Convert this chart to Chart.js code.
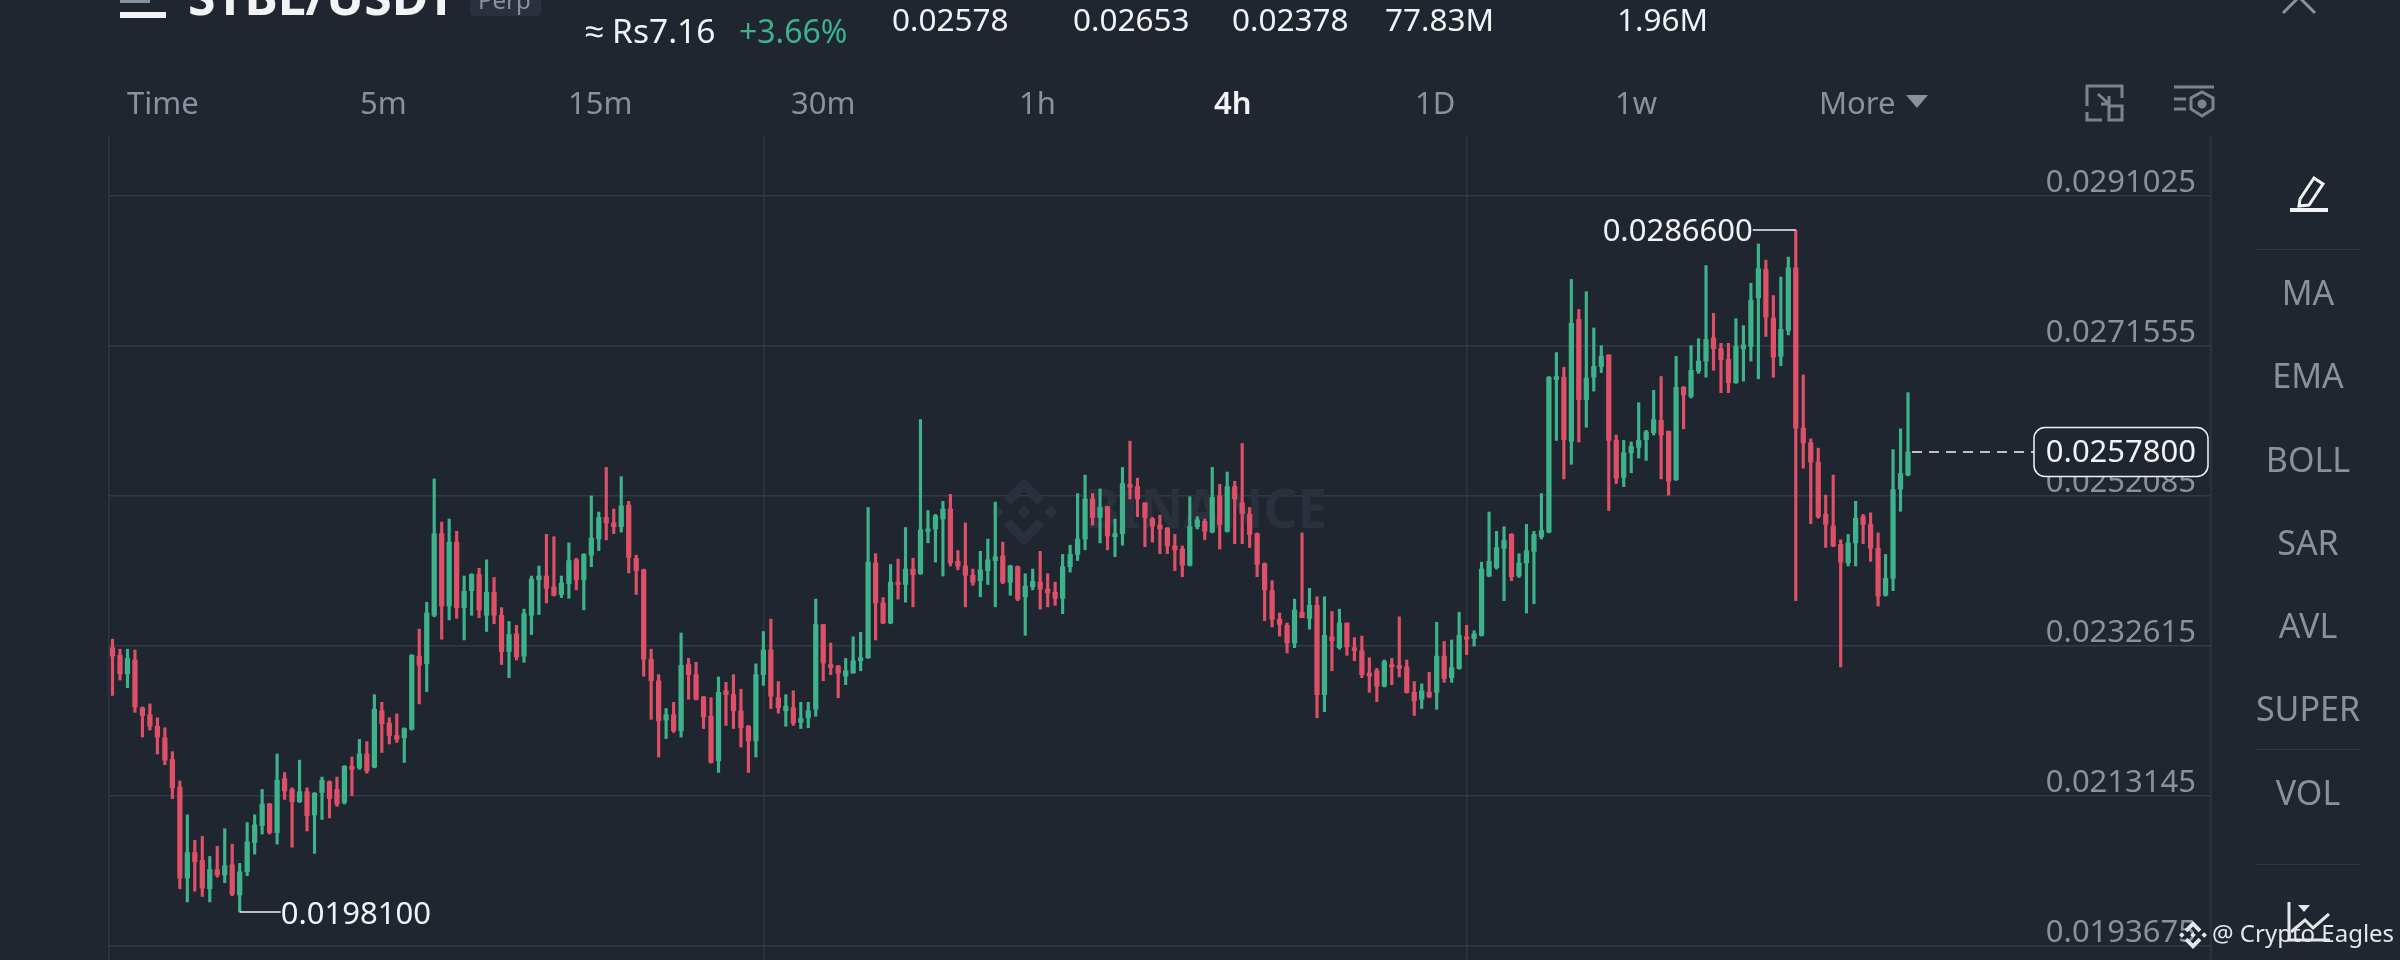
<!DOCTYPE html>
<html>
<head>
<meta charset="utf-8">
<title>STBL/USDT Perp 4h</title>
<script src="https://cdn.jsdelivr.net/npm/chart.js@4/dist/chart.umd.js"></script>
<style>
  html, body { margin: 0; padding: 0; background: #1f2630; width: 2400px; height: 960px; overflow: hidden; }
  body { position: relative; font-family: "Noto Sans", sans-serif; }
  canvas { position: absolute; left: 0; top: 0; }
  .t { position: absolute; white-space: nowrap; line-height: 1; font-size: 31px; color: #8a919d; }
  .w { color: #f2f3f5; }
  .side { left: 2208px; width: 200px; text-align: center; font-size: 34px; }
  .sep { position: absolute; left: 2256px; width: 104px; height: 1px; background: #2f3641; }
  svg { position: absolute; overflow: visible; }
</style>
</head>
<body>
<canvas id="chart" width="2400" height="960"></canvas>

<div style="position:absolute;left:120px;top:12px;width:46px;height:6px;background:#f2f3f5"></div>
<div style="position:absolute;left:120px;top:0;width:30px;height:3px;background:#8a919d"></div>
<div class="t w" style="left:188px;top:-29px;font-size:50px;font-weight:700">STBL/USDT</div>
<div style="position:absolute;left:470px;top:0;width:71px;height:16px;background:#2a313c;border-radius:0 0 4px 4px"></div>
<div class="t" style="left:478px;top:-12px;font-size:24px">Perp</div>
<div class="t w" style="left:585px;top:14px;font-size:33.5px">≈ Rs7.16</div>
<div class="t" style="left:739px;top:15px;font-size:32px;color:#3eb28a">+3.66%</div>
<div class="t w" style="left:892px;top:3px;font-size:31.5px">0.02578</div>
<div class="t w" style="left:1073px;top:3px;font-size:31.5px">0.02653</div>
<div class="t w" style="left:1232px;top:3px;font-size:31.5px">0.02378</div>
<div class="t w" style="left:1385px;top:3px;font-size:31.5px">77.83M</div>
<div class="t w" style="left:1617px;top:3px;font-size:31.5px">1.96M</div>

<div class="t" style="left:127px;top:87px">Time</div>
<div class="t" style="left:360px;top:87px">5m</div>
<div class="t" style="left:568px;top:87px">15m</div>
<div class="t" style="left:791px;top:87px">30m</div>
<div class="t" style="left:1019px;top:87px">1h</div>
<div class="t w" style="left:1214px;top:87px;font-weight:600">4h</div>
<div class="t" style="left:1415px;top:87px">1D</div>
<div class="t" style="left:1615px;top:87px">1w</div>
<div class="t" style="left:1819px;top:87px">More</div>
<svg style="left:1906px;top:95px" width="22" height="13"><path d="M0 0H22L11 13Z" fill="#8a919d"/></svg>

<svg style="left:2085px;top:84px" width="40" height="38" fill="none" stroke="#7c838f" stroke-width="3">
  <path d="M2 22V2H37V14M2 28V36H17"/><path d="M13 10L24 20M24 12V20H16"/><rect x="24" y="22" width="13" height="14"/>
</svg>
<svg style="left:2174px;top:85px" width="40" height="34" fill="none" stroke="#7c838f" stroke-width="3">
  <path d="M0 2H40M0 14H12M0 24H12"/><path d="M28 7L39 13V24L28 31L17 24V13Z"/><circle cx="28" cy="19" r="3" fill="#7c838f"/>
</svg>
<svg style="left:2281px;top:0" width="36" height="14" fill="none" stroke="#8a919d" stroke-width="3">
  <path d="M18 -3L2 13M18 -3L34 13"/>
</svg>

<svg style="left:2290px;top:175px" width="38" height="38" fill="none" stroke="#f2f3f5" stroke-width="3">
  <path d="M10 24L24 3L33 9L19 30L9 31Z"/><path d="M0 35H38" stroke-width="4"/>
</svg>
<div class="sep" style="top:249px"></div>
<div class="t side" style="top:275px">MA</div>
<div class="t side" style="top:358px">EMA</div>
<div class="t side" style="top:442px">BOLL</div>
<div class="t side" style="top:525px">SAR</div>
<div class="t side" style="top:608px">AVL</div>
<div class="t side" style="top:691px">SUPER</div>
<div class="sep" style="top:749px"></div>
<div class="t side" style="top:775px">VOL</div>
<div class="sep" style="top:864px"></div>
<svg style="left:2288px;top:902px" width="44" height="40" fill="none" stroke="#e4e5e7" stroke-width="3">
  <path d="M1 0V38H42"/><path d="M3 30L17 18L25 26L41 12"/><path d="M10 3H22L16 10Z" fill="#e4e5e7" stroke="none"/>
</svg>
<div class="t" style="left:2212px;top:921px;font-size:24px;color:#e6e7e9">@ Crypto Eagles</div>

<script>
// STBL/USDT 4h candles, prices
const opens = [
  0.02324,0.02314,0.02290,0.02308,0.02246,0.02237,0.02222,0.02207,0.02179,0.02143,
  0.02025,0.02058,0.02048,0.02011,0.02036,0.02029,0.02042,0.02003,0.02033,0.02071,
  0.02093,0.02121,0.02084,0.02154,0.02140,0.02124,0.02137,0.02107,0.02136,0.02150,
  0.02140,0.02123,0.02170,0.02168,0.02186,0.02169,0.02242,0.02226,0.02210,0.02207,
  0.02218,0.02313,0.02303,0.02366,0.02472,0.02378,0.02461,0.02376,0.02398,0.02419,
  0.02366,0.02396,0.02366,0.02319,0.02342,0.02313,0.02366,0.02412,0.02417,0.02403,
  0.02393,0.02407,0.02438,0.02412,0.02444,0.02465,0.02493,0.02486,0.02481,0.02509,
  0.02440,0.02425,0.02309,0.02281,0.02230,0.02237,0.02216,0.02302,0.02289,0.02260,
  0.02235,0.02177,0.02268,0.02263,0.02242,0.02222,0.02203,0.02289,0.02321,0.02259,
  0.02242,0.02246,0.02227,0.02233,0.02244,0.02354,0.02302,0.02300,0.02287,0.02291,
  0.02307,0.02311,0.02434,0.02382,0.02356,0.02409,0.02406,0.02426,0.02420,0.02475,
  0.02478,0.02491,0.02504,0.02436,0.02430,0.02418,0.02411,0.02424,0.02437,0.02443,
  0.02409,0.02429,0.02390,0.02403,0.02409,0.02400,0.02396,0.02388,0.02429,0.02445,
  0.02465,0.02517,0.02493,0.02507,0.02468,0.02472,0.02536,0.02533,0.02512,0.02491,
  0.02483,0.02479,0.02456,0.02452,0.02431,0.02481,0.02488,0.02474,0.02521,0.02475,
  0.02533,0.02512,0.02497,0.02472,0.02433,0.02398,0.02361,0.02353,0.02330,0.02370,
  0.02362,0.02379,0.02263,0.02338,0.02324,0.02356,0.02324,0.02320,0.02291,0.02294,
  0.02274,0.02302,0.02301,0.02299,0.02266,0.02257,0.02266,0.02266,0.02313,0.02285,
  0.02297,0.02338,0.02336,0.02340,0.02417,0.02428,0.02453,0.02471,0.02417,0.02434,
  0.02449,0.02468,0.02474,0.02672,0.02675,0.02592,0.02750,0.02646,0.02675,0.02689,
  0.02704,0.02593,0.02545,0.02577,0.02584,0.02594,0.02603,0.02619,0.02605,0.02542,
  0.02662,0.02650,0.02683,0.02696,0.02726,0.02712,0.02698,0.02668,0.02712,0.02715,
  0.02778,0.02815,0.02752,0.02702,0.02736,0.02817,0.02609,0.02590,0.02565,0.02497,
  0.02482,0.02458,0.02434,0.02460,0.02494,0.02484,0.02453,0.02392,0.02414,0.02530,
  0.02548
];
const highs = [
  0.02335,0.02322,0.02322,0.02321,0.02247,0.02251,0.02233,0.02220,0.02189,0.02151,
  0.02107,0.02074,0.02079,0.02053,0.02066,0.02089,0.02069,0.02044,0.02097,0.02107,
  0.02140,0.02122,0.02186,0.02162,0.02142,0.02178,0.02142,0.02136,0.02156,0.02151,
  0.02156,0.02171,0.02182,0.02205,0.02202,0.02263,0.02253,0.02233,0.02238,0.02220,
  0.02315,0.02348,0.02383,0.02543,0.02487,0.02491,0.02475,0.02417,0.02420,0.02427,
  0.02438,0.02415,0.02376,0.02358,0.02353,0.02374,0.02417,0.02430,0.02471,0.02468,
  0.02417,0.02460,0.02440,0.02446,0.02521,0.02500,0.02558,0.02504,0.02546,0.02514,
  0.02444,0.02426,0.02322,0.02289,0.02245,0.02253,0.02343,0.02310,0.02305,0.02261,
  0.02259,0.02286,0.02279,0.02289,0.02270,0.02223,0.02303,0.02345,0.02361,0.02280,
  0.02263,0.02268,0.02253,0.02253,0.02387,0.02354,0.02330,0.02301,0.02310,0.02338,
  0.02344,0.02506,0.02446,0.02389,0.02432,0.02439,0.02480,0.02440,0.02620,0.02502,
  0.02497,0.02514,0.02523,0.02450,0.02486,0.02426,0.02449,0.02465,0.02513,0.02461,
  0.02431,0.02430,0.02420,0.02426,0.02449,0.02420,0.02409,0.02445,0.02457,0.02524,
  0.02548,0.02524,0.02530,0.02507,0.02491,0.02558,0.02592,0.02544,0.02512,0.02493,
  0.02496,0.02480,0.02471,0.02456,0.02520,0.02494,0.02491,0.02558,0.02536,0.02552,
  0.02540,0.02589,0.02506,0.02473,0.02434,0.02411,0.02369,0.02356,0.02387,0.02473,
  0.02401,0.02390,0.02390,0.02371,0.02374,0.02356,0.02337,0.02339,0.02311,0.02297,
  0.02308,0.02310,0.02364,0.02308,0.02280,0.02277,0.02292,0.02357,0.02332,0.02334,
  0.02370,0.02353,0.02346,0.02435,0.02500,0.02475,0.02481,0.02472,0.02446,0.02484,
  0.02475,0.02524,0.02676,0.02707,0.02688,0.02802,0.02763,0.02786,0.02739,0.02716,
  0.02704,0.02600,0.02593,0.02591,0.02642,0.02606,0.02658,0.02676,0.02605,0.02702,
  0.02663,0.02716,0.02725,0.02820,0.02758,0.02719,0.02719,0.02751,0.02742,0.02797,
  0.02848,0.02827,0.02781,0.02805,0.02831,0.02866,0.02678,0.02595,0.02583,0.02522,
  0.02548,0.02464,0.02471,0.02514,0.02497,0.02499,0.02473,0.02445,0.02581,0.02608,
  0.02655
];
const lows = [
  0.02262,0.02282,0.02272,0.02240,0.02208,0.02217,0.02186,0.02172,0.02128,0.02011,
  0.01994,0.02008,0.02001,0.01994,0.02026,0.02019,0.02002,0.01981,0.02028,0.02056,
  0.02082,0.02082,0.02069,0.02127,0.02065,0.02123,0.02086,0.02057,0.02101,0.02103,
  0.02118,0.02121,0.02132,0.02166,0.02161,0.02168,0.02188,0.02199,0.02201,0.02175,
  0.02217,0.02251,0.02267,0.02364,0.02335,0.02360,0.02362,0.02334,0.02366,0.02363,
  0.02345,0.02355,0.02302,0.02285,0.02308,0.02305,0.02341,0.02367,0.02382,0.02391,
  0.02389,0.02388,0.02399,0.02373,0.02429,0.02450,0.02464,0.02472,0.02474,0.02421,
  0.02393,0.02287,0.02231,0.02182,0.02206,0.02214,0.02208,0.02257,0.02256,0.02219,
  0.02174,0.02162,0.02223,0.02219,0.02195,0.02162,0.02182,0.02275,0.02245,0.02239,
  0.02222,0.02223,0.02219,0.02220,0.02235,0.02281,0.02289,0.02259,0.02276,0.02291,
  0.02294,0.02310,0.02334,0.02355,0.02355,0.02387,0.02383,0.02377,0.02419,0.02460,
  0.02435,0.02417,0.02430,0.02425,0.02377,0.02405,0.02390,0.02406,0.02377,0.02407,
  0.02392,0.02385,0.02340,0.02399,0.02374,0.02377,0.02379,0.02368,0.02422,0.02437,
  0.02451,0.02483,0.02460,0.02451,0.02442,0.02457,0.02517,0.02494,0.02455,0.02461,
  0.02446,0.02446,0.02424,0.02416,0.02430,0.02478,0.02464,0.02473,0.02452,0.02474,
  0.02459,0.02459,0.02454,0.02416,0.02359,0.02351,0.02339,0.02317,0.02324,0.02363,
  0.02348,0.02233,0.02241,0.02294,0.02322,0.02314,0.02307,0.02285,0.02266,0.02254,
  0.02273,0.02276,0.02286,0.02265,0.02236,0.02245,0.02259,0.02244,0.02279,0.02279,
  0.02296,0.02315,0.02326,0.02339,0.02416,0.02426,0.02385,0.02411,0.02415,0.02369,
  0.02381,0.02465,0.02473,0.02593,0.02543,0.02562,0.02591,0.02610,0.02657,0.02681,
  0.02502,0.02537,0.02533,0.02551,0.02570,0.02567,0.02600,0.02543,0.02522,0.02541,
  0.02608,0.02648,0.02680,0.02675,0.02684,0.02655,0.02655,0.02667,0.02670,0.02696,
  0.02673,0.02728,0.02675,0.02690,0.02730,0.02385,0.02557,0.02485,0.02492,0.02454,
  0.02455,0.02299,0.02430,0.02430,0.02459,0.02436,0.02378,0.02391,0.02398,0.02501,
  0.02547
];
const closes = [
  0.02313,0.02290,0.02310,0.02247,0.02236,0.02222,0.02208,0.02178,0.02142,0.02025,
  0.02058,0.02046,0.02012,0.02036,0.02029,0.02041,0.02004,0.02033,0.02072,0.02094,
  0.02121,0.02084,0.02152,0.02138,0.02124,0.02137,0.02106,0.02135,0.02152,0.02128,
  0.02121,0.02170,0.02166,0.02186,0.02164,0.02244,0.02225,0.02210,0.02205,0.02219,
  0.02314,0.02301,0.02369,0.02472,0.02378,0.02461,0.02376,0.02397,0.02419,0.02373,
  0.02396,0.02366,0.02319,0.02341,0.02312,0.02368,0.02413,0.02417,0.02401,0.02392,
  0.02408,0.02437,0.02412,0.02445,0.02466,0.02493,0.02486,0.02481,0.02508,0.02441,
  0.02424,0.02309,0.02281,0.02229,0.02237,0.02216,0.02301,0.02289,0.02257,0.02234,
  0.02175,0.02266,0.02263,0.02242,0.02220,0.02203,0.02289,0.02321,0.02261,0.02246,
  0.02248,0.02226,0.02232,0.02242,0.02354,0.02304,0.02298,0.02291,0.02294,0.02307,
  0.02311,0.02435,0.02382,0.02356,0.02409,0.02406,0.02426,0.02419,0.02477,0.02478,
  0.02495,0.02504,0.02434,0.02430,0.02418,0.02409,0.02425,0.02438,0.02442,0.02409,
  0.02430,0.02387,0.02404,0.02410,0.02400,0.02395,0.02388,0.02429,0.02445,0.02465,
  0.02517,0.02493,0.02506,0.02469,0.02472,0.02537,0.02532,0.02517,0.02493,0.02482,
  0.02478,0.02456,0.02451,0.02431,0.02481,0.02490,0.02475,0.02519,0.02484,0.02533,
  0.02517,0.02498,0.02471,0.02432,0.02399,0.02361,0.02354,0.02330,0.02373,0.02363,
  0.02379,0.02263,0.02340,0.02333,0.02356,0.02325,0.02320,0.02289,0.02287,0.02274,
  0.02306,0.02299,0.02297,0.02266,0.02255,0.02268,0.02260,0.02313,0.02284,0.02298,
  0.02340,0.02335,0.02342,0.02426,0.02436,0.02454,0.02463,0.02416,0.02434,0.02450,
  0.02471,0.02476,0.02675,0.02676,0.02594,0.02745,0.02646,0.02674,0.02689,0.02702,
  0.02593,0.02544,0.02577,0.02585,0.02593,0.02604,0.02620,0.02600,0.02540,0.02662,
  0.02652,0.02684,0.02696,0.02724,0.02712,0.02698,0.02668,0.02715,0.02717,0.02775,
  0.02816,0.02753,0.02701,0.02737,0.02817,0.02609,0.02590,0.02565,0.02494,0.02484,
  0.02456,0.02435,0.02460,0.02492,0.02484,0.02453,0.02391,0.02414,0.02529,0.02550,
  0.02578
];
const priceTicks = [0.0291025, 0.0271555, 0.0252085, 0.0232615, 0.0213145, 0.0193675];
const timeGridCandles = [87, 181];

const UP = '#3eb28a';
const DOWN = '#dd5068';
const GRID_H = '#333a45';
const GRID_V = '#2e3540';
const LABEL_FONT = '31px "Noto Sans"';

const candleColors = closes.map((c, i) => (c >= opens[i] ? UP : DOWN));

function binanceLogo(ctx, cx, cy, r, color) {
    const u = r / 5;
    const diamond = (x, y, s) => {
        ctx.moveTo(x, y - s); ctx.lineTo(x + s, y); ctx.lineTo(x, y + s); ctx.lineTo(x - s, y); ctx.closePath();
    };
    const chevron = (dir) => {
        ctx.moveTo(cx, cy + dir * 5 * u);
        ctx.lineTo(cx + 3 * u, cy + dir * 2 * u);
        ctx.lineTo(cx + 2 * u, cy + dir * 1 * u);
        ctx.lineTo(cx, cy + dir * 3 * u);
        ctx.lineTo(cx - 2 * u, cy + dir * 1 * u);
        ctx.lineTo(cx - 3 * u, cy + dir * 2 * u);
        ctx.closePath();
    };
    ctx.save();
    ctx.fillStyle = color;
    ctx.beginPath();
    diamond(cx, cy, u);
    diamond(cx - 4 * u, cy, u);
    diamond(cx + 4 * u, cy, u);
    chevron(-1);
    chevron(1);
    ctx.fill();
    ctx.restore();
}

const watermark = {
    id: 'watermark',
    beforeDatasetsDraw(chart) {
        const ctx = chart.ctx;
        binanceLogo(ctx, 1024, 512, 34, '#2a313c');
        ctx.save();
        ctx.fillStyle = '#2a313c';
        ctx.font = 'bold 53px "Noto Sans"';
        ctx.textAlign = 'right';
        ctx.textBaseline = 'middle';
        ctx.fillText('BINANCE', 1327, 513);
        ctx.restore();
    }
};

const priceMarks = {
    id: 'priceMarks',
    afterDraw(chart) {
        const { ctx, scales: { x, y } } = chart;
        const hiIdx = highs.indexOf(Math.max(...highs));
        const loIdx = lows.indexOf(Math.min(...lows));
        const last = closes.length - 1;

        ctx.save();
        ctx.font = LABEL_FONT;
        ctx.textBaseline = 'middle';
        ctx.strokeStyle = '#f2f3f5';
        ctx.fillStyle = '#f2f3f5';
        ctx.lineWidth = 1.5;

        // highest high, label to the left
        const hx = x.getPixelForValue(hiIdx);
        const hy = y.getPixelForValue(highs[hiIdx]);
        ctx.beginPath();
        ctx.moveTo(hx, hy);
        ctx.lineTo(hx - 43, hy);
        ctx.stroke();
        ctx.textAlign = 'right';
        ctx.fillText(highs[hiIdx].toFixed(7), hx - 43, hy + 2);

        // lowest low, label to the right
        const lx = x.getPixelForValue(loIdx);
        const ly = y.getPixelForValue(lows[loIdx]);
        ctx.beginPath();
        ctx.moveTo(lx, ly);
        ctx.lineTo(lx + 41, ly);
        ctx.stroke();
        ctx.textAlign = 'left';
        ctx.fillText(lows[loIdx].toFixed(7), lx + 41, ly + 3);

        // last price
        const px = x.getPixelForValue(last);
        const py = y.getPixelForValue(closes[last]);
        ctx.setLineDash([10, 7]);
        ctx.beginPath();
        ctx.moveTo(px + 4, py);
        ctx.lineTo(2034, py);
        ctx.stroke();
        ctx.setLineDash([]);
        ctx.fillStyle = '#1f2630';
        ctx.beginPath();
        ctx.roundRect(2034, py - 24.5, 174, 49, 11);
        ctx.fill();
        ctx.stroke();
        ctx.fillStyle = '#f2f3f5';
        ctx.textAlign = 'right';
        ctx.fillText(closes[last].toFixed(7), 2196, py + 1);
        ctx.restore();

        binanceLogo(ctx, 2193, 935, 14, '#e6e7e9');
    }
};

document.addEventListener('DOMContentLoaded', () => {
    new Chart(document.getElementById('chart').getContext('2d'), {
        type: 'bar',
        data: {
            datasets: [
                {
                    label: 'High-Low',
                    data: highs.map((h, i) => ({ x: i, y: [lows[i], h] })),
                    backgroundColor: candleColors,
                    barThickness: 2.5,
                    grouped: false,
                    order: 2
                },
                {
                    label: 'Open-Close',
                    data: opens.map((o, i) => ({ x: i, y: [o, closes[i]] })),
                    backgroundColor: candleColors,
                    barThickness: 4.6,
                    grouped: false,
                    order: 1
                }
            ]
        },
        options: {
            responsive: false,
            animation: false,
            devicePixelRatio: 1,
            layout: { padding: { left: 109, right: 189, top: 136, bottom: 0 } },
            plugins: { legend: { display: false }, tooltip: { enabled: false } },
            scales: {
                x: {
                    type: 'linear',
                    offset: false,
                    min: -0.47,
                    max: 280.5,
                    grid: { offset: false, color: GRID_V, lineWidth: 1.5, drawTicks: false },
                    border: { display: false },
                    ticks: { display: false },
                    afterBuildTicks(scale) {
                        scale.ticks = [-0.47, ...timeGridCandles, 280.5].map(value => ({ value }));
                    },
                    afterFit(scale) {
                        scale.height = 0;
                        scale.paddingLeft = scale.paddingRight = 0;
                    }
                },
                y: {
                    position: 'right',
                    min: 0.0191858,
                    max: 0.0298813,
                    grid: { color: GRID_H, lineWidth: 1.5, drawTicks: false },
                    border: { color: GRID_V, width: 1.5 },
                    ticks: {
                        mirror: true,
                        padding: -15,
                        labelOffset: -13,
                        autoSkip: false,
                        color: '#8a919d',
                        font: { family: 'Noto Sans', size: 31 },
                        callback: v => v.toFixed(7)
                    },
                    afterBuildTicks(scale) {
                        scale.ticks = priceTicks.map(value => ({ value }));
                    },
                    afterFit(scale) {
                        scale.width = 0;
                        scale.paddingTop = scale.paddingBottom = 0;
                    }
                }
            }
        },
        plugins: [watermark, priceMarks]
    });
});
</script>
</body>
</html>
